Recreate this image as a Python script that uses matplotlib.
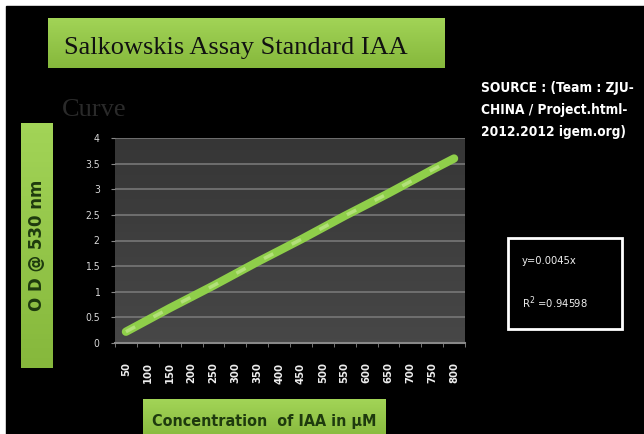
import numpy as np
import matplotlib.pyplot as plt
from matplotlib.patches import Rectangle

W, H = 644, 434
LINE_G = "#8fcf4a"

conc = [50, 100, 150, 200, 250, 300, 350, 400, 450, 500, 550, 600, 650, 700, 750, 800]
od530 = [0.22, 0.45, 0.68, 0.90, 1.12, 1.35, 1.58, 1.80, 2.02, 2.25, 2.48, 2.70, 2.92, 3.15, 3.38, 3.60]
yticks = [0, 0.5, 1, 1.5, 2, 2.5, 3, 3.5, 4]
ytick_labels = ["0", "0.5", "1", "1.5", "2", "2.5", "3", "3.5", "4"]

serif = ["Liberation Serif", "DejaVu Serif"]
cond = dict(family="DejaVu Sans", stretch="condensed")


def box(x0, y0, x1, y1):
    # pixel box (top-left origin) -> figure fraction rect
    return [x0 / W, 1 - y1 / H, (x1 - x0) / W, (y1 - y0) / H]


def green_panel(rect, top="#a2d457", bot="#86b83c"):
    a = fig.add_axes(rect)
    grad = np.linspace(0, 1, 50).reshape(-1, 1)
    c0 = np.array(plt.matplotlib.colors.to_rgb(top))
    c1 = np.array(plt.matplotlib.colors.to_rgb(bot))
    img = c0 + (c1 - c0) * grad[..., None]
    a.imshow(img, aspect="auto", extent=[0, 1, 0, 1])
    a.set_axis_off()
    return a


fig = plt.figure(figsize=(W / 100, H / 100), dpi=100, facecolor="white")
fig.patches.append(Rectangle((6 / W, 0), 1, 1 - 6 / H, transform=fig.transFigure,
                             color="black", zorder=-10))

# title box
t = green_panel(box(48, 18, 444, 68))
t.text(0.04, 0.40, "Salkowskis Assay Standard IAA", family=serif, fontsize=19,
       color="#111111", va="center", ha="left", transform=t.transAxes)
fig.text(62 / W, 1 - 110 / H, "Curve", family=serif, fontsize=19, color="#2a2a2a",
         va="center", ha="left")

# y label box
yl = green_panel(box(21, 123, 53, 368))
yl.text(0.5, 0.5, "O D @ 530 nm", rotation=90, fontsize=12, fontweight="bold",
        color="#1e3a0e", va="center", ha="center", transform=yl.transAxes)

# x label box
xl = green_panel(box(143, 399, 386, 440))
xl.text(0.5, 0.45, "Concentration  of IAA in µM", fontsize=11.5, fontweight="bold",
        color="#1e3a0e", va="center", ha="center", transform=xl.transAxes, **cond)

# main plot
ax = fig.add_axes(box(115, 138, 465, 343))
ax.set_facecolor("#3e3e3e")
grad = np.linspace(0, 1, 50).reshape(-1, 1)
ax.imshow(grad, cmap=plt.matplotlib.colors.LinearSegmentedColormap.from_list(
    "bg", ["#363636", "#474747"]), aspect="auto", extent=[0, 1, 0, 1],
    transform=ax.transAxes, zorder=0)
x = np.arange(len(conc))
ax.plot(x, od530, color=LINE_G, lw=6, solid_capstyle="round", zorder=3)
ax.plot(x, od530, color="#b3e07a", lw=2.5, dashes=(3, 6), zorder=4)
ax.set_xlim(-0.5, len(conc) - 0.5)
ax.set_ylim(0, 4)
ax.set_yticks(yticks)
ax.set_yticklabels(ytick_labels, fontsize=7.5, color="#d8d8d8", **cond)
for yv in yticks[1:]:
    ax.axhline(yv, color="#777777", lw=1.2, zorder=1)
ax.set_xticks(x)
ax.set_xticklabels([str(c) for c in conc], rotation=90, fontsize=8,
                   fontweight="bold", color="#eeeeee", **cond)
ax.set_xticks(np.arange(-0.5, len(conc), 1), minor=True)
ax.tick_params(axis="x", which="major", length=0, pad=14)
ax.tick_params(axis="x", which="minor", length=3, color="#888888")
ax.tick_params(axis="y", length=3, color="#888888", pad=8)
for s in ["top", "right", "left"]:
    ax.spines[s].set_visible(False)
ax.spines["bottom"].set_color("#888888")
ax.spines["bottom"].set_linewidth(1.5)

# source text
fig.text(481 / W, 1 - 110 / H, "SOURCE : (Team : ZJU-\nCHINA / Project.html-\n2012.2012 igem.org)",
         fontsize=9.8, fontweight="bold", color="white",
         va="center", ha="left", linespacing=1.7, **cond)

# equation box
fig.patches.append(Rectangle((508 / W, 1 - 329 / H), 114 / W, 91 / H,
                             transform=fig.transFigure, fill=False,
                             edgecolor="white", lw=2))
fig.text(522 / W, 1 - 261 / H, "y=0.0045x", fontsize=8, color="#eeeeee",
         va="center", ha="left", **cond)
fig.text(522 / W, 1 - 303 / H, "R$^2$ =0.94598", fontsize=8, color="#eeeeee",
         va="center", ha="left", **cond)

fig.savefig("out.png", dpi=100, facecolor=fig.get_facecolor())
